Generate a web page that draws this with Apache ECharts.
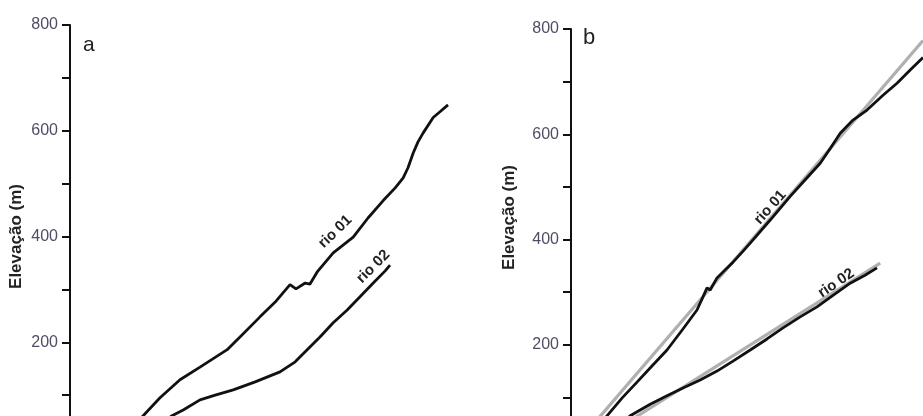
<!DOCTYPE html>
<html>
<head>
<meta charset="utf-8">
<script src="https://cdn.jsdelivr.net/npm/echarts@6/dist/echarts.min.js"></script>
<style>
  html, body { margin: 0; padding: 0; background: #fff; }
  #chart { width: 923px; height: 416px; }
</style>
</head>
<body>
<div id="chart"></div>
<script>
// panel a - longitudinal profiles (distance, elevation in m)
const rio01aDist = [15.8, 18.3, 22.5, 27.5, 32.5, 39.3, 42.5, 47.5, 51.3, 55, 56.5, 58.8, 60, 61.8, 65.8, 70.8, 74.5, 78.3, 81.3, 83.3, 84.5, 85.8, 87, 88.3, 90.8, 92.5, 94.5];
const rio01aElev = [42, 61, 95, 129, 153, 186, 210, 248, 276, 309, 301, 312, 310, 333, 369, 399, 435, 468, 492, 511, 530, 558, 579, 596, 625, 636, 649];
const rio02aDist = [21.3, 25.5, 28.3, 32.5, 36.3, 40.8, 46.3, 52.5, 56.3, 59.3, 62.5, 65.8, 69.3, 72.5, 76.3, 78.8, 80];
const rio02aElev = [38, 61, 72, 91, 100, 110, 125, 144, 163, 186, 210, 237, 261, 286, 316, 335, 346];

// panel b - profiles with fitted lines
const rio01bDist = [6, 9, 12.8, 16.5, 20.3, 24, 27.8, 31.5, 33, 34, 34.8, 36.5, 38.5, 40.5, 42.8, 44.8, 49.8, 54.8, 58.5, 62.3, 64.8, 67.3, 70.5, 74, 78, 81.5, 84.8, 88];
const rio01bElev = [38, 65, 99, 129, 160, 190, 228, 266, 291, 308, 304, 327, 342, 357, 376, 393, 437, 482, 513, 545, 573, 602, 627, 646, 674, 697, 722, 746];
const rio02bDist = [12.3, 14.8, 19.8, 24, 28, 32.3, 36.5, 40.5, 44.8, 49, 53, 57.3, 61.5, 65.5, 69.8, 73.5, 76.5];
const rio02bElev = [48, 65, 87, 103, 118, 133, 150, 169, 190, 211, 232, 253, 272, 294, 317, 332, 346];
const fit01bDist = [4.8, 88];
const fit01bElev = [42, 778];
const fit02bDist = [12.3, 77.3];
const fit02bElev = [44, 355];

const yTicks = [200, 400, 600, 800];
const yTitle = 'Elevação (m)';

const pairs = (xs, ys) => xs.map((x, i) => [x, ys[i]]);

const chart = echarts.init(document.getElementById('chart'));

const yAxisBase = {
  type: 'value',
  min: 0,
  max: 800,
  interval: 100,
  name: yTitle,
  nameLocation: 'middle',
  nameRotate: 90,
  axisLine: { show: true, lineStyle: { color: '#111', width: 2 } },
  axisTick: { show: true, length: 8, lineStyle: { color: '#111', width: 2 } },
  splitLine: { show: false },
  axisLabel: {
    margin: 12,
    color: '#4e4e64',
    fontSize: 16,
    fontFamily: 'Liberation Sans',
    formatter: v => (yTicks.includes(v) ? String(v) : '')
  }
};

const profile = (xAxisIndex, data, color, width, z) => ({
  type: 'line',
  xAxisIndex: xAxisIndex,
  yAxisIndex: xAxisIndex,
  data: data,
  showSymbol: false,
  symbol: 'none',
  z: z,
  lineStyle: { color: color, width: width },
  silent: true
});

const riverLabel = (text, coord, angle) => ({
  symbol: 'circle',
  symbolSize: 0,
  silent: true,
  data: [{
    coord: coord,
    label: {
      show: true,
      formatter: text,
      position: 'inside',
      rotate: angle,
      fontSize: 15,
      fontWeight: 'bold',
      color: '#222',
      fontFamily: 'Liberation Sans'
    }
  }]
});

const option = {
  animation: false,
  backgroundColor: '#fff',
  // the plots run below the picture's bottom edge, so the 0 line is cut off
  grid: [
    { left: 70, width: 400, top: 25, height: 423, outerBoundsMode: 'none' },
    { left: 571, width: 352, top: 29, height: 421, outerBoundsMode: 'none' }
  ],
  xAxis: [
    { type: 'value', gridIndex: 0, min: 0, max: 100, show: false },
    { type: 'value', gridIndex: 1, min: 0, max: 88, show: false }
  ],
  yAxis: [
    Object.assign({}, yAxisBase, {
      gridIndex: 0,
      nameGap: 45,
      nameTextStyle: { fontSize: 17, fontWeight: 'bold', color: '#222', fontFamily: 'Liberation Sans' }
    }),
    Object.assign({}, yAxisBase, {
      gridIndex: 1,
      nameGap: 53,
      nameTextStyle: { fontSize: 17, fontWeight: 'bold', color: '#222', fontFamily: 'Liberation Sans', padding: [0, 0, 0, 44] }
    })
  ],
  graphic: [
    { type: 'text', left: 83, top: 35, style: { text: 'a', fontSize: 21, fill: '#222', fontFamily: 'Liberation Sans' } },
    { type: 'text', left: 583, top: 27, style: { text: 'b', fontSize: 22, fill: '#222', fontFamily: 'Liberation Sans' } }
  ],
  series: [
    Object.assign(profile(0, pairs(rio01aDist, rio01aElev), '#111', 2.8, 3), { markPoint: riverLabel('rio 01', [66.3, 409], 44) }),
    Object.assign(profile(0, pairs(rio02aDist, rio02aElev), '#111', 2.8, 3), { markPoint: riverLabel('rio 02', [75.8, 343], 45) }),
    profile(1, pairs(fit01bDist, fit01bElev), '#b0b0b0', 3.2, 2),
    profile(1, pairs(fit02bDist, fit02bElev), '#b0b0b0', 3.2, 2),
    Object.assign(profile(1, pairs(rio01bDist, rio01bElev), '#111', 2.8, 3), { markPoint: riverLabel('rio 01', [49.8, 461], 48) }),
    Object.assign(profile(1, pairs(rio02bDist, rio02bElev), '#111', 2.8, 3), { markPoint: riverLabel('rio 02', [66.3, 317], 34) })
  ]
};

chart.setOption(option);
</script>
</body>
</html>
